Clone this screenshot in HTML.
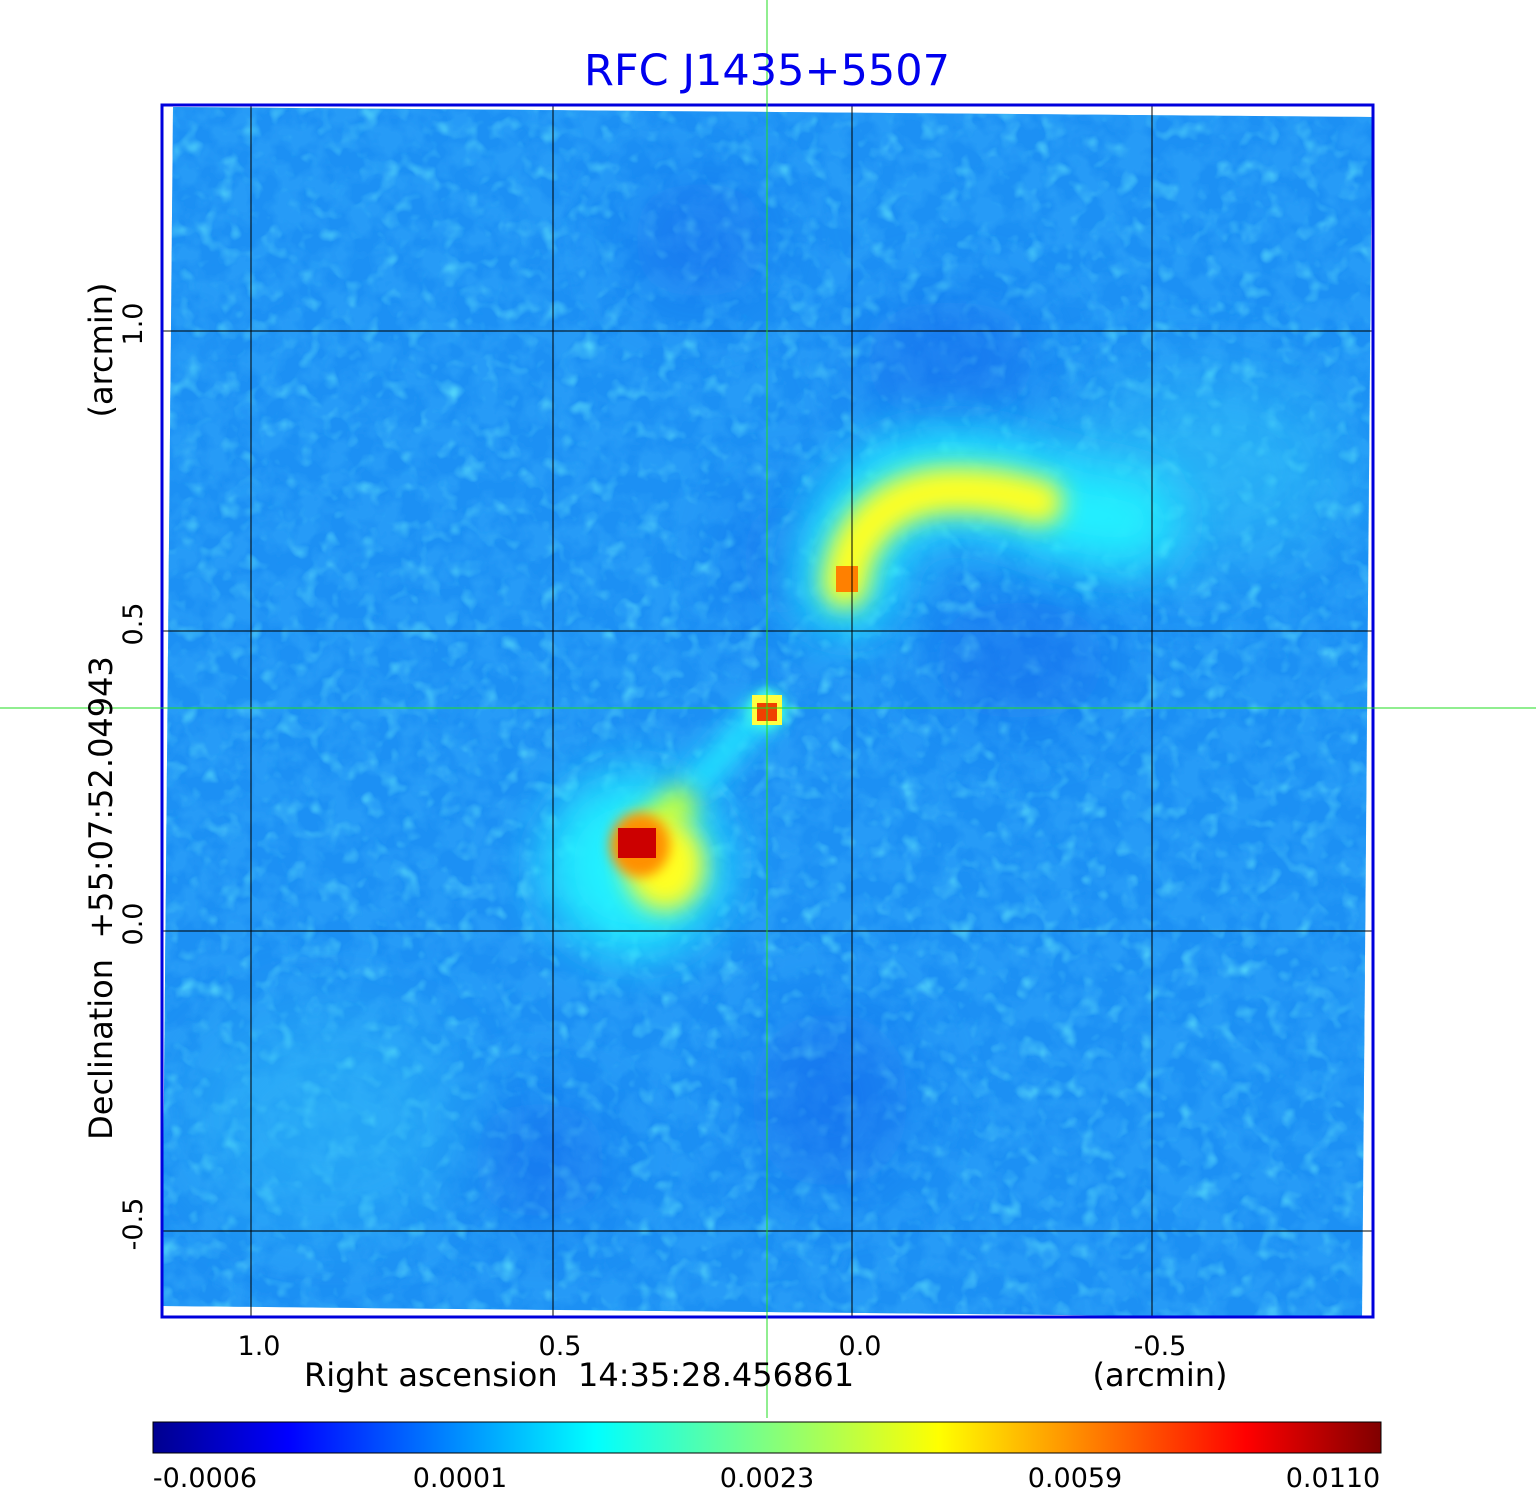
<!DOCTYPE html>
<html><head><meta charset="utf-8"><style>
html,body{margin:0;padding:0;background:#fff;width:1536px;height:1511px;overflow:hidden}
svg{display:block}
text{font-family:"DejaVu Sans","Liberation Sans",sans-serif}
</style></head><body>
<svg width="1536" height="1511" viewBox="0 0 1536 1511" xmlns="http://www.w3.org/2000/svg">
<defs>
<linearGradient id="jet" x1="0" x2="1" y1="0" y2="0">
<stop offset="0" stop-color="#00008f"/>
<stop offset="0.11" stop-color="#0000ff"/>
<stop offset="0.36" stop-color="#00ffff"/>
<stop offset="0.5" stop-color="#80ff80"/>
<stop offset="0.64" stop-color="#ffff00"/>
<stop offset="0.89" stop-color="#ff0000"/>
<stop offset="1" stop-color="#800000"/>
</linearGradient>
<filter id="noise" x="0" y="0" width="100%" height="100%" filterUnits="userSpaceOnUse">
<feTurbulence type="fractalNoise" baseFrequency="0.04" numOctaves="3" seed="7" result="n"/>
<feColorMatrix in="n" type="matrix" values="0 0 0 0 0.02  0 0 0 0 0.33  0 0 0 0 0.93  3.2 0 0 0 -1.2" result="c"/>
<feComposite in="c" in2="SourceGraphic" operator="in" result="d"/>
<feTurbulence type="fractalNoise" baseFrequency="0.05" numOctaves="2" seed="21" result="n2"/>
<feColorMatrix in="n2" type="matrix" values="0 0 0 0 0.1  0 0 0 0 0.72  0 0 0 0 0.97  2.2 0 0 0 -1.15" result="c2"/>
<feComposite in="c2" in2="SourceGraphic" operator="in" result="e"/>
<feMerge><feMergeNode in="e"/><feMergeNode in="d"/></feMerge>
</filter>
<filter id="b6" x="-100%" y="-100%" width="300%" height="300%"><feGaussianBlur stdDeviation="6"/></filter>
<filter id="b12" x="-100%" y="-100%" width="300%" height="300%"><feGaussianBlur stdDeviation="12"/></filter>
<filter id="b25" x="-100%" y="-100%" width="300%" height="300%"><feGaussianBlur stdDeviation="25"/></filter>
<filter id="b40" x="-100%" y="-100%" width="300%" height="300%"><feGaussianBlur stdDeviation="40"/></filter>
<clipPath id="clip"><polygon points="173,107 1372,117 1362,1318 162,1306"/></clipPath>
</defs>

<g clip-path="url(#clip)">
<rect x="150" y="100" width="1240" height="1230" fill="#1c90f4"/>
<rect x="150" y="100" width="1240" height="1230" fill="#fff" filter="url(#noise)"/>
<!-- darker regions -->
<g fill="#0a58e8" opacity="0.45" filter="url(#b40)">
<ellipse cx="950" cy="360" rx="90" ry="60"/>
<ellipse cx="700" cy="240" rx="70" ry="60"/>
<ellipse cx="1020" cy="660" rx="90" ry="60"/>
<ellipse cx="830" cy="1100" rx="80" ry="90"/>
<ellipse cx="540" cy="1160" rx="70" ry="60"/>
<ellipse cx="780" cy="560" rx="40" ry="70"/>
</g>
<!-- faint cyan haze regions -->
<ellipse cx="1200" cy="470" rx="150" ry="90" fill="#30c8f8" opacity="0.55" filter="url(#b40)"/>
<ellipse cx="330" cy="1120" rx="140" ry="110" fill="#30c0f8" opacity="0.45" filter="url(#b40)"/>
<!-- lower-left lobe -->
<ellipse cx="635" cy="865" rx="90" ry="90" fill="#20f0ff" filter="url(#b25)"/>
<path d="M690 790 L740 735 L765 712" stroke="#20e0ff" stroke-width="30" fill="none" filter="url(#b12)"/>
<path d="M635 842 L690 795" stroke="#c0ff40" stroke-width="34" fill="none" filter="url(#b12)"/>
<ellipse cx="665" cy="865" rx="40" ry="46" fill="#ffff20" filter="url(#b12)"/>
<ellipse cx="640" cy="845" rx="30" ry="32" fill="#ff9000" filter="url(#b6)"/>
<rect x="618" y="828" width="38" height="30" fill="#cc0000"/>
<!-- core -->
<circle cx="767" cy="710" r="20" fill="#40ffe0" filter="url(#b6)"/>
<rect x="752" y="695" width="30" height="30" fill="#ffff40"/>
<rect x="757" y="703" width="20" height="18" fill="#f04000"/>
<!-- upper arc -->
<path d="M845 585 C 850 520, 890 480, 950 480 C 1020 480, 1060 520, 1130 520" stroke="#20f0ff" stroke-width="95" fill="none" filter="url(#b25)" stroke-linecap="round"/>
<path d="M845 585 C 850 530, 890 492, 950 490 C 1000 490, 1010 495, 1040 502" stroke="#ffff20" stroke-width="46" fill="none" filter="url(#b12)" stroke-linecap="round"/>
<rect x="836" y="566" width="22" height="26" fill="#ff8000"/>
</g>

<!-- grid -->
<g stroke="#000" stroke-width="1">
<line x1="251" y1="104" x2="251" y2="1318"/>
<line x1="553" y1="104" x2="553" y2="1318"/>
<line x1="852" y1="104" x2="852" y2="1318"/>
<line x1="1152" y1="104" x2="1152" y2="1318"/>
<line x1="161" y1="331" x2="1374" y2="331"/>
<line x1="161" y1="631" x2="1374" y2="631"/>
<line x1="161" y1="931" x2="1374" y2="931"/>
<line x1="161" y1="1231" x2="1374" y2="1231"/>
</g>
<rect x="162" y="105" width="1211" height="1212" fill="none" stroke="#0000dd" stroke-width="3"/>
<!-- crosshair -->
<line x1="767" y1="0" x2="767" y2="1418" stroke="#22dd22" stroke-width="1"/>
<line x1="0" y1="708" x2="1536" y2="708" stroke="#22dd22" stroke-width="1"/>

<text x="767" y="85" text-anchor="middle" font-size="43" fill="#0000ee">RFC J1435+5507</text>

<g font-size="27" fill="#000">
<text x="259" y="1355" text-anchor="middle">1.0</text>
<text x="560" y="1355" text-anchor="middle">0.5</text>
<text x="860" y="1355" text-anchor="middle">0.0</text>
<text x="1160" y="1355" text-anchor="middle">-0.5</text>
<text x="579" y="1386" text-anchor="middle" font-size="32" xml:space="preserve">Right ascension  14:35:28.456861</text>
<text x="1160" y="1386" text-anchor="middle" font-size="32">(arcmin)</text>
<text transform="translate(142,324) rotate(-90)" text-anchor="middle">1.0</text>
<text transform="translate(142,624) rotate(-90)" text-anchor="middle">0.5</text>
<text transform="translate(142,924) rotate(-90)" text-anchor="middle">0.0</text>
<text transform="translate(142,1224) rotate(-90)" text-anchor="middle">-0.5</text>
<text transform="translate(112,350) rotate(-90)" text-anchor="middle" font-size="32">(arcmin)</text>
<text transform="translate(112,898) rotate(-90)" text-anchor="middle" font-size="32" xml:space="preserve">Declination  +55:07:52.04943</text>
</g>

<rect x="153" y="1422" width="1228" height="31" fill="url(#jet)" stroke="#000" stroke-width="1"/>
<g font-size="27" fill="#000" text-anchor="middle">
<text x="205" y="1487">-0.0006</text>
<text x="460" y="1487">0.0001</text>
<text x="767" y="1487">0.0023</text>
<text x="1075" y="1487">0.0059</text>
<text x="1333" y="1487">0.0110</text>
</g>
</svg>
</body></html>
